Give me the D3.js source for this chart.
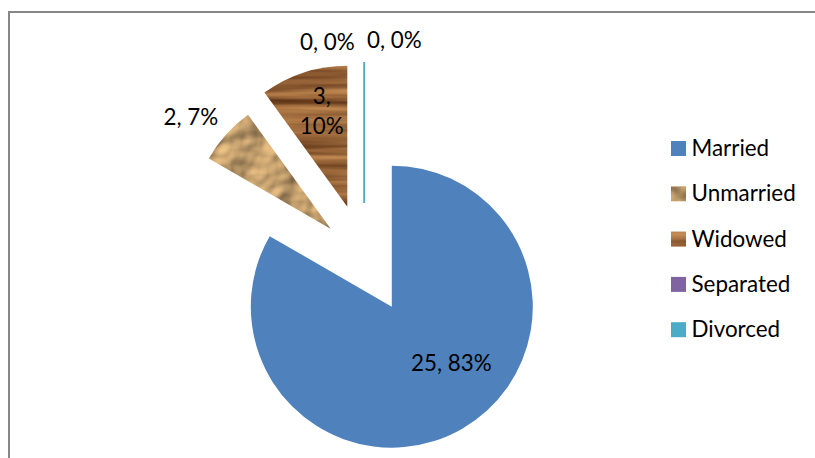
<!DOCTYPE html>
<html>
<head>
<meta charset="utf-8">
<script src="https://cdn.jsdelivr.net/npm/d3@7"></script>
<style>
  html, body { margin: 0; padding: 0; background: #fff; }
  svg { display: block; }
  text { font-family: Lato, "Noto Sans", sans-serif; fill: #000; }
</style>
</head>
<body>
<div id="chart"></div>
<script>
// ---- data ----
const categories = ["Married", "Unmarried", "Widowed", "Separated", "Divorced"];
const counts = [25, 2, 3, 0, 0];

// ---- style ----
const W = 815, H = 458;
const center = [364.3, 259];
const radius = 141;
const explode = [55, 45, 55, 56, 56];
const solid = ["#4f81bd", "#d2b07e", "#8d5a2e", "#8064a2", "#4bacc6"];
const labelOffsets = [[59.5, 64.7], [-140, -103.5], [-25.6, -102.4], [-37, -153], [30, -155]];
const fontSize = 22.4;

const svg = d3.select("#chart").append("svg").attr("width", W).attr("height", H);
const defs = svg.append("defs");

// wood texture filter
const wood = defs.append("filter").attr("id", "woodF")
  .attr("x", "0").attr("y", "0").attr("width", "1").attr("height", "1")
  .attr("color-interpolation-filters", "sRGB");
wood.append("feTurbulence").attr("type", "fractalNoise")
  .attr("baseFrequency", "0.005 0.11").attr("numOctaves", 3).attr("seed", 4).attr("result", "t");
wood.append("feColorMatrix").attr("in", "t").attr("type", "matrix")
  .attr("values", "0.62 0 0 0 0.29  0.52 0 0 0 0.14  0.36 0 0 0 0.045  0 0 0 0 1").attr("result", "c");
wood.append("feComposite").attr("in", "c").attr("in2", "SourceGraphic").attr("operator", "in");

// parchment texture filter
const parch = defs.append("filter").attr("id", "parchF")
  .attr("x", "0").attr("y", "0").attr("width", "1").attr("height", "1")
  .attr("color-interpolation-filters", "sRGB");
parch.append("feTurbulence").attr("type", "fractalNoise")
  .attr("baseFrequency", "0.028").attr("numOctaves", 3).attr("seed", 7).attr("result", "n");
parch.append("feDiffuseLighting").attr("in", "n").attr("surfaceScale", 5)
  .attr("diffuseConstant", 1.2).attr("lighting-color", "#d3ac76").attr("result", "l")
  .append("feDistantLight").attr("azimuth", 235).attr("elevation", 50);
parch.append("feComposite").attr("in", "l").attr("in2", "SourceGraphic").attr("operator", "in");

const fillFor = (i) => i === 1 ? "url(#parchF)" : i === 2 ? "url(#woodF)" : null;

// border
svg.append("path")
  .attr("d", `M9,${H + 10} L9,12 L${W + 10},12`)
  .attr("fill", "none").attr("stroke", "#878787").attr("stroke-width", 2);

const total = d3.sum(counts);
const pie = d3.pie().sort(null).value(d => d).startAngle(0).endAngle(2 * Math.PI);
const arcs = pie(counts);
const arc = d3.arc().innerRadius(0).outerRadius(radius);

const g = svg.append("g").attr("transform", `translate(${center[0]},${center[1]})`);

arcs.forEach((a, i) => {
  const mid = (a.startAngle + a.endAngle) / 2;
  const [ox, oy] = d3.pointRadial(mid, explode[i]);
  const sg = g.append("g").attr("transform", `translate(${ox},${oy})`);
  if (a.value > 0) {
    const p = sg.append("path").attr("d", arc(a));
    if (fillFor(i)) p.attr("fill", "#000").attr("filter", fillFor(i));
    else p.attr("fill", solid[i]);
  } else {
    const [ex, ey] = d3.pointRadial(a.startAngle, radius);
    sg.append("line").attr("x1", 0).attr("y1", 0).attr("x2", ex).attr("y2", ey)
      .attr("stroke", solid[i]).attr("stroke-width", 1.5);
  }
});

// labels
arcs.forEach((a, i) => {
  const mid = (a.startAngle + a.endAngle) / 2;
  const [ox, oy] = d3.pointRadial(mid, explode[i]);
  const pct = Math.round(a.value / total * 100) + "%";
  const t = g.append("text")
    .attr("x", ox + labelOffsets[i][0]).attr("y", oy + labelOffsets[i][1])
    .attr("text-anchor", "middle").style("font-size", fontSize + "px");
  if (i === 2) {
    t.append("tspan").attr("x", ox + labelOffsets[i][0]).text(a.value + ",");
    t.append("tspan").attr("x", ox + labelOffsets[i][0]).attr("dy", 29.7).text(pct);
  } else {
    t.text(a.value + ", " + pct);
  }
});

// legend
const legend = svg.append("g").attr("transform", "translate(671,141)");
categories.forEach((c, i) => {
  const row = legend.append("g").attr("transform", `translate(0,${i * 45.3})`);
  const r = row.append("rect").attr("width", 15).attr("height", 15);
  if (fillFor(i)) r.attr("fill", "#000").attr("filter", fillFor(i));
  else r.attr("fill", solid[i]);
  row.append("text").attr("x", 20.5).attr("y", 15).style("font-size", fontSize + "px").text(c);
});
</script>
</body>
</html>
